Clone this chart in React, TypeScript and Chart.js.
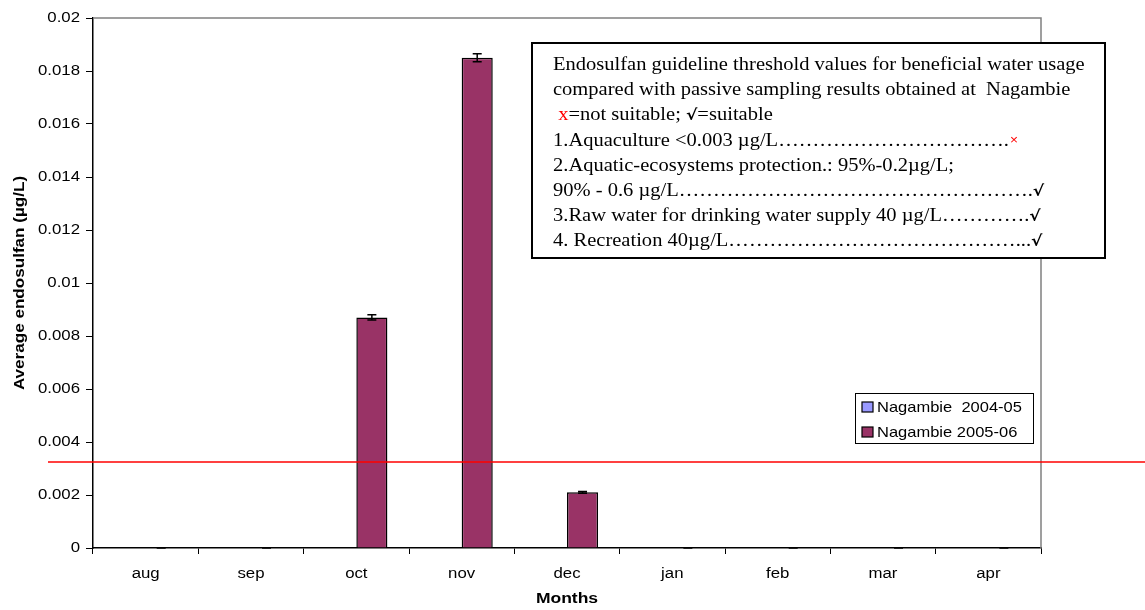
import React, { useEffect, useRef } from "react";
import { Chart, registerables } from "chart.js";

Chart.register(...registerables);

// Months on the category axis
const months = ["aug", "sep", "oct", "nov", "dec", "jan", "feb", "mar", "apr"];
// Average endosulfan (µg/L) per season
const nagambie0405 = [0, 0, 0, 0, 0, 0, 0, 0, 0];
const nagambie0506 = [0, 0, 0.0087, 0.0185, 0.0021, 0, 0, 0, 0];
// Error half-widths for the 2005-06 season
const nagambie0506Err = [0, 0, 0.0001, 0.00015, 0.00003, 0, 0, 0, 0];
// Axis ticks
const yTicks = [0, 0.002, 0.004, 0.006, 0.008, 0.01, 0.012, 0.014, 0.016, 0.018, 0.02];
const yTickLabels = ["0", "0.002", "0.004", "0.006", "0.008", "0.01", "0.012", "0.014", "0.016", "0.018", "0.02"];
// Guideline level marked by the red line
const thresholdLevel = 0.00325;

const seriesNames = ["Nagambie  2004-05", "Nagambie 2005-06"];
const seriesColors = ["#9999FF", "#993366"];

const xTitle = "Months";
const yTitle = "Average endosulfan (\u00B5g/L)";

const W = 1145;
const H = 610;
const SANS = "'Liberation Sans', Arial, sans-serif";
const SERIF = "'Liberation Serif', 'Times New Roman', serif";

// Draw text widened horizontally by sx around its anchor
function wideText(
  ctx: CanvasRenderingContext2D,
  text: string,
  x: number,
  y: number,
  sx: number,
  align: CanvasTextAlign = "left"
) {
  ctx.save();
  ctx.translate(x, y);
  ctx.scale(sx, 1);
  ctx.textAlign = align;
  ctx.fillText(text, 0, 0);
  ctx.restore();
}

const errorBars = {
  id: "errorBars",
  afterDatasetsDraw(chart: any) {
    const ctx = chart.ctx;
    const meta = chart.getDatasetMeta(1);
    const y = chart.scales.y;
    ctx.save();
    ctx.strokeStyle = "#000";
    ctx.lineWidth = 1.5;
    meta.data.forEach((bar: any, i: number) => {
      const v = nagambie0506[i];
      const e = nagambie0506Err[i];
      const x = bar.x;
      const yTop = y.getPixelForValue(v + e);
      const yBot = y.getPixelForValue(Math.max(0, v - e));
      ctx.beginPath();
      ctx.moveTo(x, yTop);
      ctx.lineTo(x, yBot);
      ctx.moveTo(x - 4.5, yTop);
      ctx.lineTo(x + 4.5, yTop);
      ctx.moveTo(x - 4.5, yBot);
      ctx.lineTo(x + 4.5, yBot);
      ctx.stroke();
    });
    ctx.restore();
  },
};

const frame = {
  id: "frame",
  beforeDatasetsDraw(chart: any) {
    const { ctx, chartArea } = chart;
    ctx.save();
    ctx.strokeStyle = "#808080";
    ctx.lineWidth = 1.5;
    ctx.beginPath();
    ctx.moveTo(chartArea.left, chartArea.top);
    ctx.lineTo(chartArea.right, chartArea.top);
    ctx.lineTo(chartArea.right, chartArea.bottom);
    ctx.stroke();
    ctx.restore();
  },
};

// Axis labels and titles
const axisText = {
  id: "axisText",
  afterDraw(chart: any) {
    const ctx = chart.ctx as CanvasRenderingContext2D;
    const xs = chart.scales.x;
    const ys = chart.scales.y;
    ctx.save();
    ctx.fillStyle = "#000";
    ctx.textBaseline = "middle";
    ctx.font = `14px ${SANS}`;
    yTicks.forEach((v, i) => {
      wideText(ctx, yTickLabels[i], 80, ys.getPixelForValue(v), 1.2, "right");
    });
    months.forEach((m, i) => {
      wideText(ctx, m, xs.getPixelForTick(i), 574, 1.2, "center");
    });
    ctx.font = `bold 14px ${SANS}`;
    wideText(ctx, xTitle, (chart.chartArea.left + chart.chartArea.right) / 2, 599, 1.25, "center");
    ctx.save();
    ctx.translate(20, (chart.chartArea.top + chart.chartArea.bottom) / 2);
    ctx.rotate(-Math.PI / 2);
    wideText(ctx, yTitle, 0, 0, 1.22, "center");
    ctx.restore();
    ctx.restore();
  },
};

function drawLeader(ctx: CanvasRenderingContext2D, text: string, y: number, target: number) {
  ctx.fillText(text, 0, y);
  let cx = ctx.measureText(text).width;
  const ell = "\u2026";
  const ellW = ctx.measureText(ell).width;
  while (cx + ellW <= target) {
    ctx.fillText(ell, cx, y);
    cx += ellW;
  }
  const dotW = ctx.measureText(".").width;
  while (cx + dotW <= target) {
    ctx.fillText(".", cx, y);
    cx += dotW;
  }
  return cx;
}

const overlay = {
  id: "overlay",
  afterDraw(chart: any) {
    const ctx = chart.ctx as CanvasRenderingContext2D;
    const y = chart.scales.y;

    // Red guideline line
    const ly = y.getPixelForValue(thresholdLevel);
    ctx.save();
    ctx.strokeStyle = "#FF0000";
    ctx.lineWidth = 1.5;
    ctx.beginPath();
    ctx.moveTo(48, ly);
    ctx.lineTo(W, ly);
    ctx.stroke();

    // Legend
    ctx.fillStyle = "#fff";
    ctx.fillRect(855, 393, 178, 50);
    ctx.strokeStyle = "#000";
    ctx.lineWidth = 1;
    ctx.strokeRect(855.5, 393.5, 178, 50);
    ctx.font = `15px ${SANS}`;
    ctx.textBaseline = "middle";
    seriesNames.forEach((name, i) => {
      const cy = 407 + i * 25;
      ctx.fillStyle = seriesColors[i];
      ctx.fillRect(862, cy - 5, 11, 10);
      ctx.strokeStyle = "#000";
      ctx.lineWidth = 1.2;
      ctx.strokeRect(862, cy - 5, 11, 10);
      ctx.fillStyle = "#000";
      wideText(ctx, name, 877, cy + 1, 1.1);
    });

    // Guideline text box
    ctx.fillStyle = "#fff";
    ctx.fillRect(532, 43, 573, 215);
    ctx.strokeStyle = "#000";
    ctx.lineWidth = 2;
    ctx.strokeRect(532, 43, 573, 215);

    const sx = 1.14;
    const x0 = 553;
    const base = 70;
    const lh = 25.2;
    const serif = `18px ${SERIF}`;
    const check = `bold 15px 'DejaVu Sans', sans-serif`;
    const local = (px: number) => (px - x0) / sx;

    ctx.save();
    ctx.translate(x0, 0);
    ctx.scale(sx, 1);
    ctx.font = serif;
    ctx.textBaseline = "alphabetic";
    ctx.fillStyle = "#000";
    ctx.fillText("Endosulfan guideline threshold values for beneficial water usage", 0, base);
    ctx.fillText("compared with passive sampling results obtained at  Nagambie", 0, base + lh);

    let cx = ctx.measureText(" ").width;
    ctx.fillStyle = "#FF0000";
    ctx.fillText("x", cx, base + 2 * lh);
    cx += ctx.measureText("x").width;
    ctx.fillStyle = "#000";
    ctx.fillText("=not suitable; ", cx, base + 2 * lh);
    cx += ctx.measureText("=not suitable; ").width;
    ctx.font = check;
    ctx.fillText("\u221A", cx, base + 2 * lh);
    cx += ctx.measureText("\u221A").width;
    ctx.font = serif;
    ctx.fillText("=suitable", cx, base + 2 * lh);

    const end = drawLeader(ctx, "1.Aquaculture <0.003 \u00B5g/L", base + 3 * lh, local(1014));
    ctx.fillStyle = "#FF0000";
    ctx.font = `12px ${SANS}`;
    ctx.fillText("\u00D7", end + 1, base + 3 * lh - 2);
    ctx.fillStyle = "#000";
    ctx.font = serif;

    ctx.fillText("2.Aquatic-ecosystems protection.: 95%-0.2\u00B5g/L;", 0, base + 4 * lh);

    const checkLines = [
      "90% - 0.6 \u00B5g/L",
      "3.Raw water for drinking water supply 40 \u00B5g/L",
      "4. Recreation 40\u00B5g/L",
    ];
    checkLines.forEach((t, i) => {
      const by = base + (5 + i) * lh;
      ctx.font = serif;
      const e = drawLeader(ctx, t, by, local(1033));
      ctx.font = check;
      ctx.fillText("\u221A", e, by);
    });
    ctx.restore();
    ctx.restore();
  },
};

export default function App() {
  const ref = useRef<HTMLCanvasElement | null>(null);

  useEffect(() => {
    const canvas = ref.current;
    if (!canvas) return;
    const chart = new Chart(canvas, {
      type: "bar",
      data: {
        labels: months,
        datasets: [
          {
            label: seriesNames[0],
            data: nagambie0405,
            backgroundColor: seriesColors[0],
            borderColor: "#000",
            borderWidth: 0,
          },
          {
            label: seriesNames[1],
            data: nagambie0506,
            backgroundColor: seriesColors[1],
            borderColor: "#000",
            borderWidth: 1.5,
          },
        ],
      },
      options: {
        animation: false,
        responsive: false,
        maintainAspectRatio: false,
        layout: { padding: { left: 0, top: 18, right: 104, bottom: 0 } },
        plugins: {
          legend: { display: false },
          tooltip: { enabled: false },
        },
        datasets: {
          bar: { categoryPercentage: 0.59, barPercentage: 1 },
        },
        scales: {
          x: {
            afterFit(scale: any) {
              scale.height = H - 548;
            },
            grid: {
              display: true,
              drawOnChartArea: false,
              drawTicks: true,
              tickLength: 6,
              color: "#000",
              offset: true,
            },
            border: { display: true, color: "#000", width: 1.5 },
            ticks: { display: false },
            title: { display: false },
          },
          y: {
            min: 0,
            max: 0.02,
            afterFit(scale: any) {
              scale.width = 93;
            },
            afterBuildTicks(scale: any) {
              scale.ticks = yTicks.map((v) => ({ value: v }));
            },
            grid: {
              display: true,
              drawOnChartArea: false,
              drawTicks: true,
              tickLength: 7,
              color: "#000",
            },
            border: { display: true, color: "#000", width: 1.5 },
            ticks: { display: false },
            title: { display: false },
          },
        },
      },
      plugins: [frame, errorBars, overlay, axisText],
    });
    return () => chart.destroy();
  }, []);

  return (
    <div style={{ position: "fixed", left: 0, top: 0, width: W, height: H, background: "#fff" }}>
      <canvas ref={ref} width={W} height={H} style={{ display: "block", width: W, height: H }} />
    </div>
  );
}
